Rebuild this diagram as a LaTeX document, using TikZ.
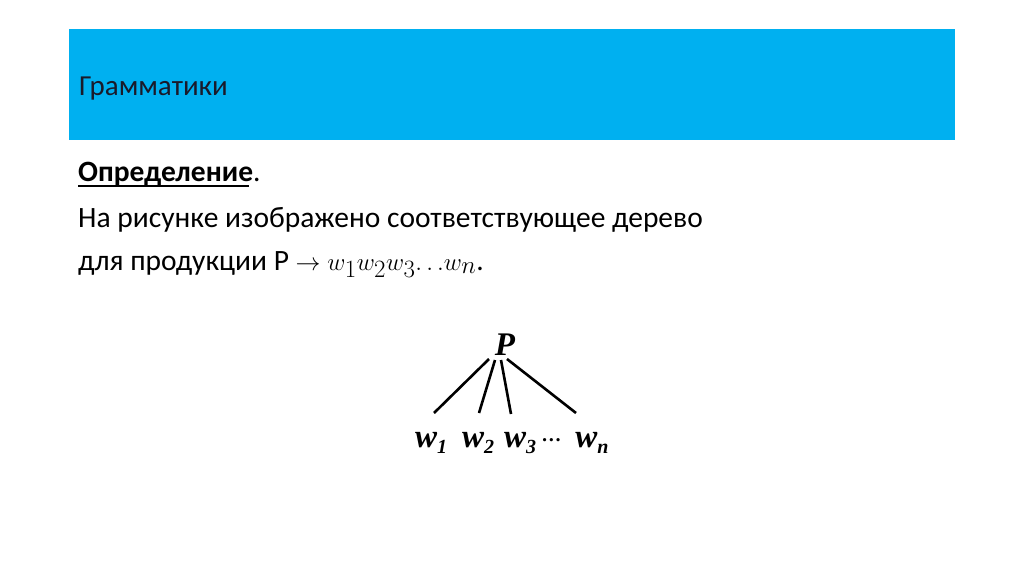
\documentclass[tikz,border=0pt]{standalone}
\usepackage{fontspec}
\setmainfont{Carlito}
\newfontfamily\treefont{Liberation Serif}
\definecolor{hdrblue}{HTML}{00B0F0}
\definecolor{hdrtext}{HTML}{1A1A2A}
\newcommand{\tsub}[1]{\raisebox{-6pt}{\fontsize{20}{20}\selectfont #1}}
\begin{document}
\begin{tikzpicture}[x=1pt,y=-1pt,
  bodytext/.style={anchor=base west,inner sep=0pt,font=\fontsize{29.5}{33}\selectfont},
  treelabel/.style={inner sep=0pt,font=\treefont\bfseries\itshape\fontsize{33}{36}\selectfont},
  edge/.style={line width=2.6pt}]
\useasboundingbox[fill=white] (0,0) rectangle (1024,574);
\fill[hdrblue] (69,29) rectangle (955,140);
\node[anchor=base west,inner sep=0pt,text=hdrtext,font=\fontsize{29}{32}\selectfont] (title) at (79,95) {Грамматики};
\node[bodytext] (def) at (78,181) {\textbf{Определение}.};
\draw[line width=1.8pt] ([yshift=-5pt]def.base west) -- ++(171,0);
\node[bodytext] (l1) at (78,227) {На рисунке изображено соответствующее дерево};
\node[bodytext] (l2) at (78,270) {для продукции P {\fontsize{35}{38}\selectfont$\rightarrow w_1w_2w_3{\ldotp\ldotp\ldotp}w_n$}.};
% tree
\node[treelabel,anchor=base] (P) at (505,355) {P};
\node[treelabel,anchor=base] (w1) at (431,447) {w\tsub{1}};
\node[treelabel,anchor=base] (w2) at (478,447) {w\tsub{2}};
\node[treelabel,anchor=base] (w3) at (520,447) {w\tsub{3}};
\node[treelabel,anchor=base] (dots) at (552,441) {\fontsize{20}{20}\selectfont\textbf{\dots}};
\node[treelabel,anchor=base] (wn) at (592,447) {w\tsub{n}};
\coordinate (e1) at (434,413);
\coordinate (e2) at (479,413);
\coordinate (e3) at (511,414);
\coordinate (e4) at (576,413);
\draw[edge] (489,359) -- (e1);
\draw[edge] (495,360) -- (e2);
\draw[edge] (501,360) -- (e3);
\draw[edge] (507,359) -- (e4);
\end{tikzpicture}
\end{document}
